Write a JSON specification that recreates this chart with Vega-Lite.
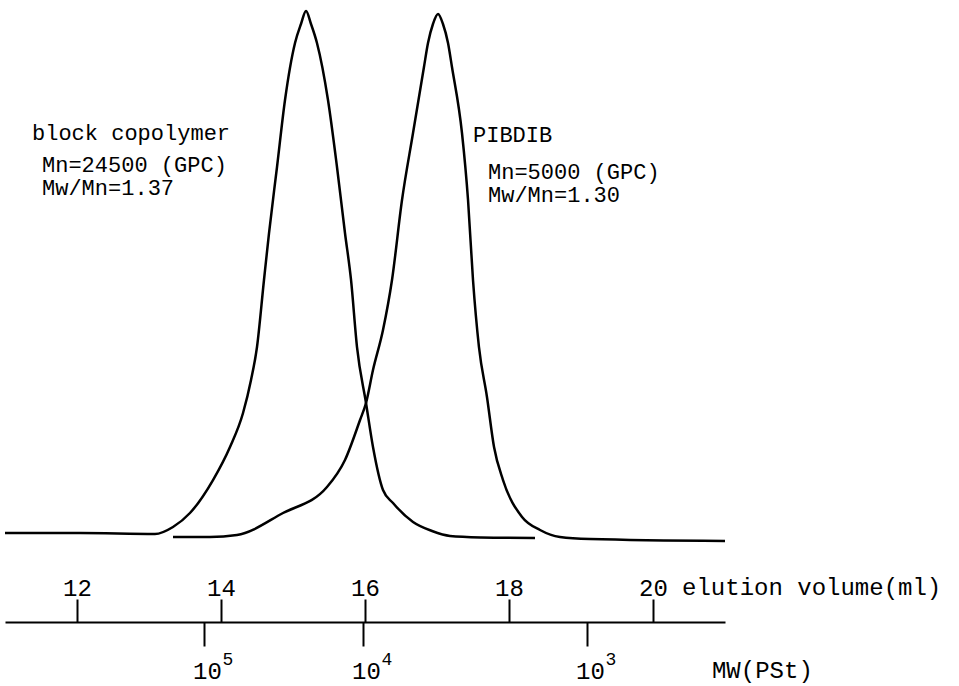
{
  "$schema": "https://vega.github.io/schema/vega-lite/v6.json",
  "width": 720,
  "height": 622,
  "autosize": {"type": "none"},
  "padding": {"left": 5, "top": 0, "right": 234, "bottom": 64},
  "background": "white",
  "config": {
    "view": {"stroke": null},
    "font": "Liberation Mono",
    "text": {"font": "Liberation Mono", "color": "black"}
  },
  "datasets": {
    "curves": [
      {"series": "block copolymer", "v": 11.0, "s": 0.19},
      {"series": "block copolymer", "v": 12.042, "s": 0.19},
      {"series": "block copolymer", "v": 13.083, "s": 0.0},
      {"series": "block copolymer", "v": 13.333, "s": 1.34},
      {"series": "block copolymer", "v": 13.569, "s": 4.02},
      {"series": "block copolymer", "v": 13.889, "s": 10.34},
      {"series": "block copolymer", "v": 14.125, "s": 16.67},
      {"series": "block copolymer", "v": 14.306, "s": 23.18},
      {"series": "block copolymer", "v": 14.417, "s": 29.5},
      {"series": "block copolymer", "v": 14.5, "s": 35.82},
      {"series": "block copolymer", "v": 14.597, "s": 48.66},
      {"series": "block copolymer", "v": 14.667, "s": 57.66},
      {"series": "block copolymer", "v": 14.778, "s": 70.31},
      {"series": "block copolymer", "v": 14.889, "s": 83.14},
      {"series": "block copolymer", "v": 15.028, "s": 94.06},
      {"series": "block copolymer", "v": 15.111, "s": 97.7},
      {"series": "block copolymer", "v": 15.181, "s": 100.19},
      {"series": "block copolymer", "v": 15.25, "s": 97.7},
      {"series": "block copolymer", "v": 15.333, "s": 94.06},
      {"series": "block copolymer", "v": 15.486, "s": 83.14},
      {"series": "block copolymer", "v": 15.611, "s": 70.31},
      {"series": "block copolymer", "v": 15.722, "s": 57.66},
      {"series": "block copolymer", "v": 15.806, "s": 48.66},
      {"series": "block copolymer", "v": 15.889, "s": 35.82},
      {"series": "block copolymer", "v": 16.014, "s": 25.1},
      {"series": "block copolymer", "v": 16.111, "s": 16.67},
      {"series": "block copolymer", "v": 16.25, "s": 8.43},
      {"series": "block copolymer", "v": 16.389, "s": 5.94},
      {"series": "block copolymer", "v": 16.667, "s": 2.3},
      {"series": "block copolymer", "v": 16.931, "s": 0.57},
      {"series": "block copolymer", "v": 17.181, "s": -0.38},
      {"series": "block copolymer", "v": 17.611, "s": -0.65},
      {"series": "block copolymer", "v": 18.361, "s": -0.77},
      {"series": "PIBDIB", "v": 13.333, "s": -0.57},
      {"series": "PIBDIB", "v": 13.847, "s": -0.57},
      {"series": "PIBDIB", "v": 14.222, "s": -0.19},
      {"series": "PIBDIB", "v": 14.861, "s": 4.02},
      {"series": "PIBDIB", "v": 15.472, "s": 9.0},
      {"series": "PIBDIB", "v": 15.722, "s": 14.18},
      {"series": "PIBDIB", "v": 15.931, "s": 21.84},
      {"series": "PIBDIB", "v": 16.014, "s": 25.1},
      {"series": "PIBDIB", "v": 16.111, "s": 31.42},
      {"series": "PIBDIB", "v": 16.25, "s": 39.08},
      {"series": "PIBDIB", "v": 16.375, "s": 48.66},
      {"series": "PIBDIB", "v": 16.514, "s": 63.98},
      {"series": "PIBDIB", "v": 16.667, "s": 76.82},
      {"series": "PIBDIB", "v": 16.819, "s": 89.46},
      {"series": "PIBDIB", "v": 16.875, "s": 94.06},
      {"series": "PIBDIB", "v": 16.944, "s": 97.7},
      {"series": "PIBDIB", "v": 17.014, "s": 99.62},
      {"series": "PIBDIB", "v": 17.083, "s": 97.7},
      {"series": "PIBDIB", "v": 17.153, "s": 94.06},
      {"series": "PIBDIB", "v": 17.208, "s": 89.46},
      {"series": "PIBDIB", "v": 17.347, "s": 76.82},
      {"series": "PIBDIB", "v": 17.431, "s": 63.98},
      {"series": "PIBDIB", "v": 17.5, "s": 48.66},
      {"series": "PIBDIB", "v": 17.583, "s": 35.82},
      {"series": "PIBDIB", "v": 17.694, "s": 26.25},
      {"series": "PIBDIB", "v": 17.792, "s": 16.67},
      {"series": "PIBDIB", "v": 17.917, "s": 10.34},
      {"series": "PIBDIB", "v": 18.181, "s": 3.26},
      {"series": "PIBDIB", "v": 18.431, "s": 0.77},
      {"series": "PIBDIB", "v": 18.708, "s": -0.57},
      {"series": "PIBDIB", "v": 19.125, "s": -0.96},
      {"series": "PIBDIB", "v": 21.0, "s": -1.34}
    ],
    "mw": [
      {"v": 13.764, "exp": "5"},
      {"v": 15.972, "exp": "4"},
      {"v": 19.083, "exp": "3"}
    ],
    "notes": [
      {"v": 11.375, "s": 75.48, "label": "block copolymer"},
      {"v": 11.514, "s": 69.35, "label": "Mn=24500 (GPC)"},
      {"v": 11.514, "s": 64.94, "label": "Mw/Mn=1.37"},
      {"v": 17.5, "s": 75.1, "label": "PIBDIB"},
      {"v": 17.708, "s": 68.01, "label": "Mn=5000 (GPC)"},
      {"v": 17.708, "s": 63.6, "label": "Mw/Mn=1.30"}
    ],
    "axisnotes": [
      {"v": 20.403, "s": -11.69, "label": "elution volume(ml)"},
      {"v": 20.819, "s": -27.59, "label": "MW(PSt)"}
    ]
  },
  "layer": [
    {
      "data": {"name": "curves"},
      "mark": {"type": "line", "interpolate": "monotone", "color": "black", "strokeWidth": 2.5},
      "encoding": {
        "x": {
          "field": "v", "type": "quantitative",
          "scale": {"domain": [11, 21], "nice": false, "zero": false},
          "axis": {
            "orient": "top", "offset": -622, "values": [12, 14, 16, 18, 20],
            "grid": false, "title": null,
            "domain": true, "domainColor": "black", "domainWidth": 2,
            "ticks": true, "tickSize": 23, "tickWidth": 2, "tickColor": "black",
            "labelFont": "Liberation Mono", "labelFontSize": 24, "labelColor": "black",
            "labelBaseline": "alphabetic", "labelPadding": 4, "labelFlush": false, "labelOverlap": false
          }
        },
        "y": {
          "field": "s", "type": "quantitative",
          "scale": {"domain": [-16.86, 102.3], "nice": false, "zero": false},
          "axis": null
        },
        "detail": {"field": "series", "type": "nominal"}
      }
    },
    {
      "data": {"name": "mw"},
      "mark": {"type": "text", "dx": 24, "baseline": "alphabetic", "align": "center", "fontSize": 18, "color": "black"},
      "encoding": {
        "x": {
          "field": "v", "type": "quantitative",
          "axis": {
            "orient": "bottom", "values": [13.764, 15.972, 19.083],
            "grid": false, "title": null, "domain": false,
            "ticks": true, "tickSize": 24, "tickWidth": 2, "tickColor": "black",
            "labelExpr": "'10'",
            "labelFont": "Liberation Mono", "labelFontSize": 24, "labelColor": "black",
            "labelBaseline": "alphabetic", "labelPadding": 32, "labelOffset": 3,
            "labelFlush": false, "labelOverlap": false
          }
        },
        "y": {"datum": -25.1, "type": "quantitative"},
        "text": {"field": "exp"}
      }
    },
    {
      "data": {"name": "notes"},
      "mark": {"type": "text", "align": "left", "baseline": "alphabetic", "fontSize": 22, "color": "black"},
      "encoding": {
        "x": {"field": "v", "type": "quantitative", "axis": null},
        "y": {"field": "s", "type": "quantitative"},
        "text": {"field": "label"}
      }
    },
    {
      "data": {"name": "axisnotes"},
      "mark": {"type": "text", "align": "left", "baseline": "alphabetic", "fontSize": 24, "color": "black"},
      "encoding": {
        "x": {"field": "v", "type": "quantitative", "axis": null},
        "y": {"field": "s", "type": "quantitative"},
        "text": {"field": "label"}
      }
    }
  ],
  "resolve": {"axis": {"x": "independent"}}
}
